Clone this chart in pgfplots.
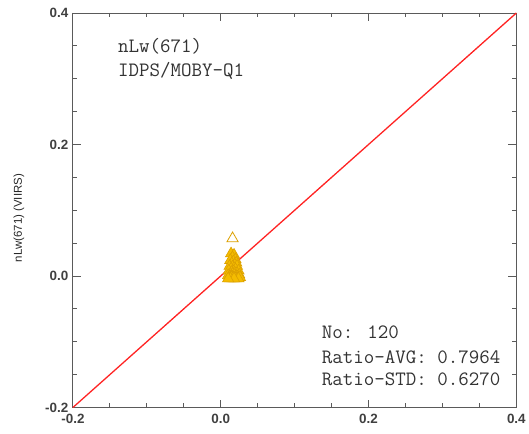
\documentclass[border=0pt]{standalone}
\usepackage{fontspec}
\setmainfont{Liberation Sans}
\usepackage{pgfplots}
\pgfplotsset{compat=1.18}
\definecolor{gold}{RGB}{244,188,0}
\definecolor{golddark}{RGB}{220,160,0}
\definecolor{axgray}{RGB}{90,90,90}
\begin{document}
\begin{tikzpicture}[x=1bp,y=1bp]
\begin{axis}[
  at={(0,0)}, anchor=south west,
  scale only axis,
  width=444bp, height=395bp,
  xmin=-0.2, xmax=0.4, ymin=-0.2, ymax=0.4,
  xtick={-0.2,0,0.2,0.4}, ytick={-0.2,0,0.2,0.4},
  minor tick num=3,
  tick align=inside,
  major tick length=8bp, minor tick length=4bp,
  axis line style={axgray, line width=0.9bp},
  every tick/.style={axgray, line width=0.9bp},
  /pgf/number format/assume math mode=true,
  /pgf/number format/fixed, /pgf/number format/fixed zerofill, /pgf/number format/precision=1,
  ticklabel style={font=\bfseries\fontsize{13.5}{16}\selectfont, text=black!75},
  xticklabel style={yshift=-3bp},
  yticklabel style={xshift=-1bp},
  ylabel={nLw(671) (VIIRS)},
  ylabel style={at={(axis description cs:-0.122,0.48)}, anchor=center, rotate=0, font=\fontsize{11.5}{13}\selectfont, text=black!85},
  clip=false,
]
\addplot[color={rgb,255:red,255;green,35;blue,35}, line width=1.3bp] coordinates {(-0.2,-0.2) (0.4,0.4)};
\addplot[only marks, mark=triangle*, mark size=6.5bp,
  mark options={fill=gold, draw=golddark, line width=0.6bp}] coordinates {
(0.014,0.034) (0.018,0.032) (0.016,0.028) (0.020,0.025) (0.013,0.024)
(0.017,0.022) (0.021,0.020) (0.015,0.019) (0.019,0.017) (0.012,0.015)
(0.022,0.015) (0.016,0.014) (0.018,0.012) (0.014,0.011) (0.020,0.010)
(0.024,0.008) (0.011,0.008) (0.017,0.007) (0.015,0.006) (0.019,0.005)
(0.022,0.004) (0.013,0.003) (0.016,0.003) (0.025,0.002) (0.018,0.002)
(0.010,0.001) (0.014,0.000) (0.021,0.000) (0.023,-0.001) (0.012,-0.001)
(0.017,-0.002) (0.026,-0.002) (0.015,-0.002) (0.019,-0.003) (0.011,-0.003)
(0.022,-0.003) (0.016,-0.004) (0.013,-0.004) (0.020,-0.004) (0.024,-0.004)
(0.018,-0.004) (0.010,-0.004)
};
\addplot[only marks, mark=triangle, mark size=6.5bp,
  mark options={draw=golddark, fill=white, line width=0.8bp}] coordinates {
(0.016,0.057)
};
\node[anchor=base west, inner sep=0pt, font=\ttfamily\fontsize{20.5}{22}\selectfont, text=black!80] at (axis cs:-0.139,0.3395) {nLw(671)};
\node[anchor=base west, inner sep=0pt, font=\ttfamily\fontsize{20.5}{22}\selectfont, text=black!80] at (axis cs:-0.139,0.303) {IDPS/MOBY-Q1};
\node[anchor=base west, inner sep=0pt, font=\ttfamily\fontsize{20.5}{22}\selectfont, text=black!80] at (axis cs:0.1365,-0.0951) {No: 120};
\node[anchor=base west, inner sep=0pt, font=\ttfamily\fontsize{20.5}{22}\selectfont, text=black!80] at (axis cs:0.1365,-0.1331) {Ratio-AVG: 0.7964};
\node[anchor=base west, inner sep=0pt, font=\ttfamily\fontsize{20.5}{22}\selectfont, text=black!80] at (axis cs:0.1365,-0.1666) {Ratio-STD: 0.6270};
\end{axis}
\path[use as bounding box] (-73bp,-26bp) rectangle (456bp,408bp);
\end{tikzpicture}
\end{document}
